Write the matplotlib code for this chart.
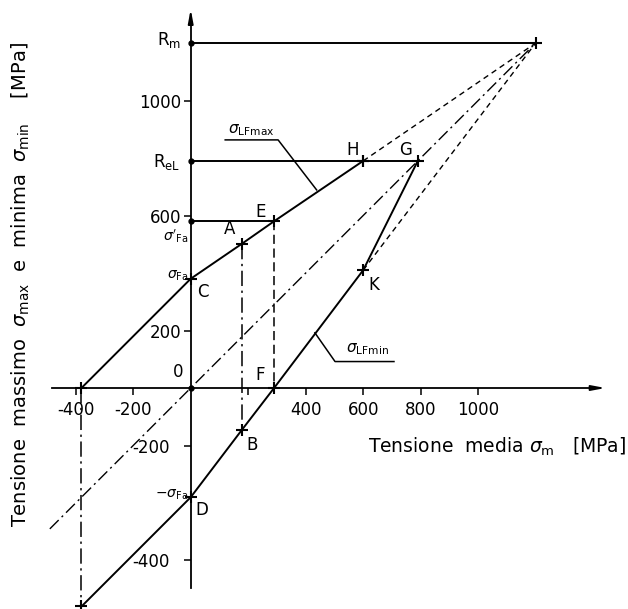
import matplotlib
matplotlib.use("Agg")
import matplotlib.pyplot as plt

# Material strength values [MPa]
sigma_Fa = 380        # fatigue limit, fully reversed stress
sigma_Fa_p = 580      # maximum stress at E (sigma'_Fa)
R_eL = 790            # yield strength
R_m = 1200            # tensile strength

# Upper limit line sigma_LFmax : (mean stress, maximum stress)
upper_sm = [-380, 0, 177, 290, 600]
upper_smax = [0, 380, 501, 580, 790]

# Lower limit line sigma_LFmin : (mean stress, minimum stress)
lower_sm = [-380, 0, 177, 290, 600]
lower_smin = [-760, -380, -147, 0, 410]

# Yield corner G and ultimate point
G_sm, G_s = 790, 790
top_sm, top_s = 1200, 1200

# Axis ticks
xticks = [-400, -200, 200, 400, 600, 800, 1000]
xtick_labels = ["-400", "-200", "", "400", "600", "800", "1000"]
yticks = [-600, -200, 200, 600, 1000]
ytick_labels = ["-400", "-200", "200", "600", "1000"]

W, H = 628, 609
fig = plt.figure(figsize=(W / 100, H / 100), dpi=100)
ax = fig.add_axes([0, 0, 1, 1])
ax.set_xlim(-663.3, 1521.0)
ax.set_ylim(-768.7, 1349.6)
ax.patch.set_alpha(0)

k = "black"
lw = 1.4
FS = 12

# axes through the origin
for s in ("top", "right"):
    ax.spines[s].set_visible(False)
ax.spines["left"].set_position(("data", 0))
ax.spines["bottom"].set_position(("data", 0))
ax.spines["left"].set_bounds(-697, 1290)
ax.spines["bottom"].set_bounds(-484, 1420)
ax.spines["left"].set_linewidth(1.3)
ax.spines["bottom"].set_linewidth(1.3)
ax.annotate("", xy=(0, 1318), xytext=(0, 1270),
            arrowprops=dict(arrowstyle="-|>,head_length=0.8,head_width=0.15",
                            color=k, lw=1.3, shrinkA=0, shrinkB=0))
ax.annotate("", xy=(1443, 0), xytext=(1400, 0),
            arrowprops=dict(arrowstyle="-|>,head_length=0.8,head_width=0.15",
                            color=k, lw=1.3, shrinkA=0, shrinkB=0))

ax.set_xticks(xticks, xtick_labels)
ax.set_yticks(yticks, ytick_labels)
ax.tick_params(axis="both", direction="out", length=5, width=1.1,
               labelsize=FS, colors=k)
ax.tick_params(axis="x", pad=4)
ax.tick_params(axis="y", pad=2)
for t, lab in zip(ax.yaxis.get_major_ticks(), ytick_labels):
    if lab.startswith("-"):
        t.set_pad(10)

# origin label
ax.text(-44, 57, "0", fontsize=FS, ha="center", va="center")

# horizontal reference levels
ax.plot([0, top_sm], [R_m, R_m], color=k, lw=lw)
ax.plot([0, G_sm], [R_eL, R_eL], color=k, lw=lw)
ax.plot([0, upper_sm[3]], [sigma_Fa_p, sigma_Fa_p], color=k, lw=lw)

# bisector sigma = sigma_m
ax.plot([-490, top_sm], [-490, top_s], color=k, lw=1.0,
        dashes=(9, 3, 1.5, 3))
# dashed extensions to the ultimate point
ax.plot([upper_sm[-1], top_sm], [upper_smax[-1], top_s], color=k, lw=1.0,
        dashes=(4, 3))
ax.plot([lower_sm[-1], top_sm], [lower_smin[-1], top_s], color=k, lw=1.0,
        dashes=(4, 3))

# verticals
ax.plot([upper_sm[3], lower_sm[3]], [upper_smax[3], lower_smin[3]],
        color=k, lw=1.1, dashes=(6, 3))
ax.plot([upper_sm[2], lower_sm[2]], [upper_smax[2], lower_smin[2]],
        color=k, lw=1.1, dashes=(10, 3, 1.5, 3))
ax.plot([upper_sm[0], lower_sm[0]], [upper_smax[0], lower_smin[0]],
        color=k, lw=1.1, dashes=(10, 3, 1.5, 3))

# limit lines
ax.plot(upper_sm, upper_smax, color=k, lw=lw)
ax.plot(lower_sm, lower_smin, color=k, lw=lw)
ax.plot([lower_sm[-1], G_sm], [lower_smin[-1], G_s], color=k, lw=lw)

# point markers
pts_x = upper_sm + lower_sm + [G_sm, upper_sm[-1], top_sm]
pts_y = upper_smax + lower_smin + [G_s, R_eL, top_s]
ax.plot(pts_x, pts_y, ls="none", marker="+", ms=8, mew=1.5, color=k)
ax.plot([0, 0, 0, 0], [R_m, R_eL, sigma_Fa_p, 0], ls="none", marker="o",
        ms=3.5, color=k)

# level labels on the vertical axis
ax.text(-35, 1210, r"R$_{\mathrm{m}}$", fontsize=FS, ha="right", va="center")
ax.text(-35, 787, r"R$_{\mathrm{eL}}$", fontsize=FS, ha="right", va="center")
ax.text(-8, 528, r"$\sigma'_{\mathrm{Fa}}$", fontsize=FS - 2, ha="right",
        va="center")
ax.text(-8, 390, r"$\sigma_{\mathrm{Fa}}$", fontsize=FS - 2, ha="right",
        va="center")
ax.text(-8, -372, r"$-\sigma_{\mathrm{Fa}}$", fontsize=FS - 2, ha="right",
        va="center")

# point letters
letters = {"C": (42, 335), "A": (134, 552), "E": (244, 613), "H": (563, 828),
           "G": (748, 828), "K": (637, 358), "F": (241, 45), "B": (215, -198),
           "D": (38, -424)}
for name, (xx, yy) in letters.items():
    ax.text(xx, yy, name, fontsize=FS, ha="center", va="center")

# curve labels with leaders
ax.text(212, 897, r"$\sigma_{\mathrm{LFmax}}$", fontsize=FS - 1, ha="center",
        va="center")
ax.plot([120, 304, 438], [863, 863, 689], color=k, lw=1.1)
ax.text(615, 136, r"$\sigma_{\mathrm{LFmin}}$", fontsize=FS - 1, ha="center",
        va="center")
ax.plot([707, 502, 432], [92, 92, 192], color=k, lw=1.1)

# axis titles
fig.text(626 / W, 1 - 447 / H, r"Tensione  media $\sigma_{\mathrm{m}}$   [MPa]",
         fontsize=13.5, ha="right", va="center")
fig.text(21 / W, 1 - 285 / H,
         r"Tensione  massimo  $\sigma_{\mathrm{max}}$  e  minima  "
         r"$\sigma_{\mathrm{min}}$    [MPa]",
         fontsize=14, ha="center", va="center", rotation=90)

fig.savefig("out.png", dpi=100, facecolor="white")
